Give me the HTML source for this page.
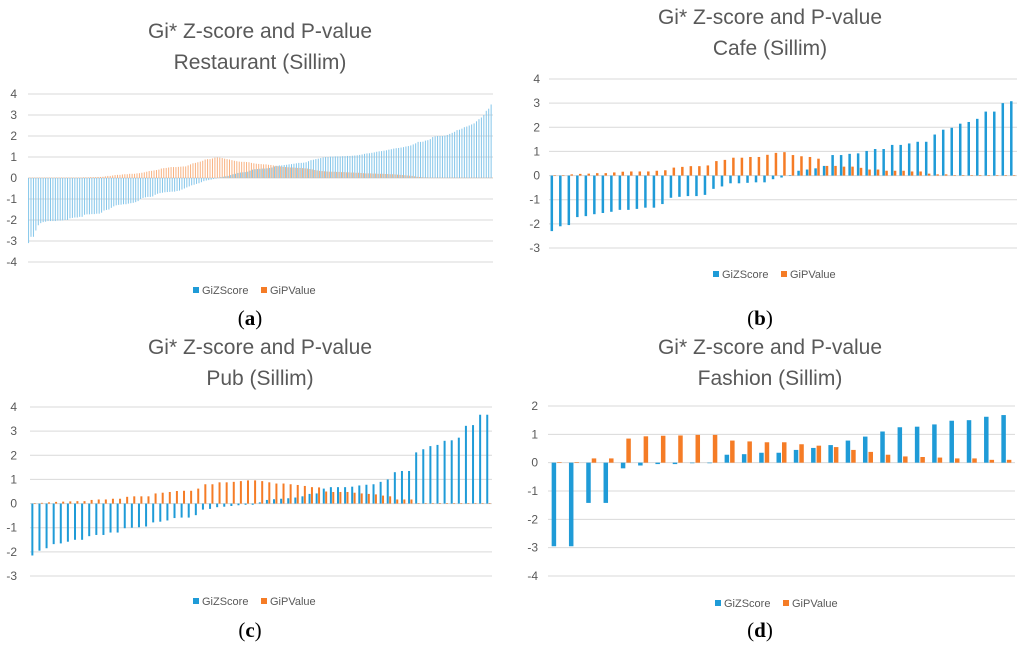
<!DOCTYPE html>
<html><head><meta charset="utf-8">
<style>
html,body{margin:0;padding:0;background:#fff;}
svg{display:block;font-family:"Liberation Sans",sans-serif;}
.tl{font-size:12px;fill:#595959;}
.ttl{font-size:21px;fill:#595959;}
.lg{font-size:11px;fill:#595959;}
.pl{font-family:"Liberation Serif",serif;font-size:21px;fill:#000;}
</style></head>
<body>
<svg id="root" width="1024" height="645" viewBox="0 0 1024 645"></svg>
<script>
// ---- Panel (a) Restaurant ----
const zA = [-3.1,-2.8,-2.8,-2.5,-2.25,-2.15,-2.1,-2.08,-2.05,-2.05,
-2.05,-2.05,-2.03,-2.03,-2.02,-2.0,-2.0,-1.92,-1.9,-1.88,
-1.88,-1.85,-1.85,-1.75,-1.73,-1.73,-1.72,-1.72,-1.7,-1.7,
-1.65,-1.55,-1.52,-1.5,-1.42,-1.35,-1.3,-1.28,-1.27,-1.25,
-1.25,-1.22,-1.2,-1.18,-1.15,-1.1,-1.0,-0.95,-0.92,-0.9,
-0.9,-0.88,-0.8,-0.75,-0.72,-0.7,-0.68,-0.67,-0.66,-0.65,
-0.65,-0.62,-0.6,-0.55,-0.5,-0.45,-0.4,-0.35,-0.32,-0.28,
-0.25,-0.2,-0.15,-0.12,-0.1,-0.08,-0.05,-0.03,0.02,0.04,
0.06,0.08,0.1,0.14,0.18,0.2,0.24,0.26,0.27,0.28,
0.3,0.35,0.4,0.42,0.43,0.44,0.45,0.45,0.46,0.48,
0.5,0.55,0.58,0.6,0.6,0.62,0.63,0.65,0.66,0.68,
0.7,0.72,0.72,0.73,0.75,0.8,0.85,0.87,0.9,0.92,
0.95,0.98,1.0,1.0,1.02,1.02,1.03,1.03,1.03,1.04,
1.04,1.05,1.05,1.06,1.07,1.08,1.1,1.12,1.15,1.17,
1.18,1.2,1.22,1.25,1.27,1.28,1.3,1.32,1.35,1.37,
1.4,1.42,1.43,1.45,1.47,1.5,1.52,1.55,1.6,1.65,
1.72,1.72,1.73,1.78,1.8,1.85,1.95,1.98,2.0,2.0,
2.0,2.02,2.05,2.1,2.15,2.2,2.28,2.3,2.35,2.42,
2.45,2.5,2.55,2.6,2.7,2.8,2.88,3.0,3.2,3.3,3.5];
const pA = [0.02,0.02,0.02,0.02,0.02,0.02,0.02,0.02,0.02,0.02,
0.02,0.02,0.02,0.02,0.02,0.02,0.02,0.02,0.02,0.02,
0.02,0.02,0.03,0.03,0.03,0.04,0.04,0.04,0.05,0.05,
0.06,0.08,0.1,0.1,0.12,0.14,0.15,0.15,0.17,0.18,
0.18,0.2,0.2,0.2,0.22,0.23,0.25,0.27,0.3,0.33,
0.34,0.36,0.38,0.4,0.45,0.47,0.48,0.5,0.52,0.52,
0.52,0.53,0.54,0.55,0.55,0.6,0.65,0.7,0.72,0.75,
0.78,0.82,0.88,0.9,0.9,0.93,0.97,0.98,0.97,0.95,
0.92,0.9,0.88,0.85,0.82,0.8,0.78,0.77,0.77,0.76,
0.75,0.72,0.7,0.68,0.67,0.66,0.65,0.65,0.63,0.62,
0.6,0.58,0.56,0.55,0.53,0.52,0.51,0.5,0.5,0.49,
0.48,0.48,0.47,0.46,0.45,0.43,0.41,0.38,0.36,0.34,
0.33,0.32,0.31,0.3,0.3,0.3,0.29,0.29,0.28,0.28,
0.27,0.27,0.26,0.26,0.25,0.25,0.24,0.23,0.22,0.22,
0.22,0.21,0.21,0.2,0.2,0.2,0.19,0.19,0.18,0.18,
0.17,0.16,0.15,0.14,0.13,0.12,0.11,0.1,0.08,0.06,
0.05,0.04,0.03,0.03,0.02,0.02,0.02,0.02,0.02,0.02,
0.02,0.02,0.02,0.02,0.02,0.02,0.02,0.02,0.02,0.02,
0.02,0.02,0.02,0.02,0.02,0.02,0.02,0.02,0.02,0.02,0.02];
const ticksA = [4,3,2,1,0,-1,-2,-3,-4];
// ---- Panel (b) Cafe ----
const zB = [-2.3,-2.1,-2.05,-1.72,-1.68,-1.6,-1.55,-1.5,-1.42,-1.42,
-1.38,-1.33,-1.33,-1.18,-0.92,-0.88,-0.85,-0.85,-0.8,-0.55,
-0.45,-0.32,-0.32,-0.3,-0.28,-0.28,-0.15,-0.08,0.02,0.2,
0.25,0.3,0.4,0.85,0.85,0.9,0.92,1.02,1.1,1.1,
1.27,1.27,1.33,1.4,1.4,1.7,1.9,1.98,2.15,2.22,
2.35,2.65,2.65,3.0,3.08];
const pB = [0.01,0.01,0.05,0.07,0.08,0.1,0.1,0.13,0.16,0.17,
0.17,0.17,0.2,0.22,0.33,0.36,0.39,0.39,0.42,0.6,
0.65,0.74,0.74,0.77,0.77,0.86,0.94,0.97,0.85,0.8,
0.77,0.7,0.4,0.4,0.37,0.37,0.32,0.25,0.25,0.2,
0.2,0.2,0.17,0.17,0.08,0.05,0.05,0.02,0.02,0.02,
0.02,0.02,0.02,0.02,0.02];
const ticksB = [4,3,2,1,0,-1,-2,-3];
// ---- Panel (c) Pub ----
const zC = [-2.15,-1.95,-1.85,-1.68,-1.65,-1.58,-1.5,-1.5,-1.35,-1.3,
-1.3,-1.2,-1.2,-1.02,-1.0,-0.98,-0.95,-0.78,-0.75,-0.7,
-0.6,-0.58,-0.58,-0.48,-0.25,-0.22,-0.15,-0.13,-0.1,-0.07,
-0.05,-0.05,0.05,0.15,0.18,0.2,0.22,0.25,0.3,0.4,
0.42,0.62,0.68,0.68,0.68,0.7,0.75,0.78,0.8,0.9,
1.0,1.3,1.35,1.35,2.12,2.25,2.38,2.43,2.6,2.62,
2.73,3.22,3.25,3.68,3.68];
const pC = [0.02,0.03,0.05,0.07,0.08,0.09,0.1,0.1,0.15,0.17,
0.17,0.2,0.2,0.28,0.3,0.3,0.3,0.42,0.45,0.48,
0.52,0.53,0.53,0.62,0.8,0.8,0.88,0.88,0.9,0.93,
0.96,0.96,0.93,0.88,0.83,0.83,0.8,0.77,0.73,0.68,
0.67,0.5,0.48,0.48,0.48,0.45,0.42,0.4,0.38,0.33,
0.3,0.17,0.17,0.17,0.02,0.02,0.02,0.02,0.02,0.02,
0.02,0.02,0.02,0.02,0.02];
const ticksC = [4,3,2,1,0,-1,-2,-3];
// ---- Panel (d) Fashion ----
const zD = [-2.95,-2.95,-1.42,-1.42,-0.2,-0.1,-0.05,-0.05,-0.02,-0.02,
0.28,0.3,0.35,0.35,0.45,0.52,0.62,0.78,0.92,1.1,
1.25,1.27,1.35,1.48,1.5,1.62,1.68];
const pD = [0.02,0.02,0.15,0.15,0.85,0.93,0.95,0.96,0.98,0.98,
0.78,0.75,0.72,0.72,0.65,0.6,0.55,0.45,0.38,0.28,
0.22,0.2,0.18,0.15,0.15,0.1,0.1];
const ticksD = [2,1,0,-1,-2,-3,-4];

const NS = "http://www.w3.org/2000/svg";
const root = document.getElementById('root');
function mk(tag, attrs, parent){
  const e = document.createElementNS(NS, tag);
  for (const k in attrs) e.setAttribute(k, attrs[k]);
  parent.appendChild(e);
  return e;
}
function panel(id, title2, z, p, ticks, g){
  const grp = mk('g', {}, root);
  
  
  const yMax = ticks[0], yMin = ticks[ticks.length-1];
  const y = v => g.top + (yMax - v) / (yMax - yMin) * (g.bot - g.top);
  // titles
  const t1 = mk('text', {x:g.cx, y:g.t1, 'text-anchor':'middle', class:'ttl'}, grp);
  t1.textContent = 'Gi* Z-score and P-value';
  
  
  const t2 = mk('text', {x:g.cx, y:g.t1+31, 'text-anchor':'middle', class:'ttl'}, grp);
  t2.textContent = title2;
  
  
  // grid + ticks
  ticks.forEach(t => {
    const l = mk('line', {x1:g.x0, x2:g.x1, y1:y(t), y2:y(t), stroke:'#d9d9d9', 'stroke-width':1}, grp);
    
    
    const tx = mk('text', {x:g.lx, y:y(t)+4, 'text-anchor':'end', class:'tl'}, grp);
    tx.textContent = t;
    
    
  });
  // bars
  const n = z.length, slot = (g.x1 - g.x0) / n;
  for (let i = 0; i < n; i++){
    const c = g.x0 + (i + 0.5) * slot;
    const zb = mk('rect', {x:c - g.bw - g.gap/2, y:Math.min(y(z[i]), y(0)), width:g.bw, height:Math.max(0.5, Math.abs(y(z[i]) - y(0))), fill:g.blue}, grp);
    
    
    const pb = mk('rect', {x:c + g.gap/2, y:Math.min(y(p[i]), y(0)), width:g.bw, height:Math.max(0.5, Math.abs(y(p[i]) - y(0))), fill:g.orange}, grp);
    
    
  }
  // legend
  const lg = mk('g', {}, grp);
  
  
  mk('rect', {x:g.legx, y:g.legy-7, width:6, height:6, fill:'#1f9bd7'}, lg);
  const l1 = mk('text', {x:g.legx+9, y:g.legy, class:'lg'}, lg);
  l1.textContent = 'GiZScore';
  
  
  mk('rect', {x:g.legx+68, y:g.legy-7, width:6, height:6, fill:'#f57c26'}, lg);
  const l2 = mk('text', {x:g.legx+77, y:g.legy, class:'lg'}, lg);
  l2.textContent = 'GiPValue';
  
  
  // panel label
  const pl = mk('text', {x:g.cx - 10, y:g.ply, 'text-anchor':'middle', class:'pl'}, grp);
  pl.innerHTML = '(<tspan font-weight="bold">' + id + '</tspan>)';
  
  
}
panel('a', 'Restaurant (Sillim)', zA, pA, ticksA,
  {x0:28, x1:493, top:94, bot:262, lx:17, cx:260, t1:38, legx:193, legy:294, ply:325, bw:1, gap:0.3, blue:'#85c6ea', orange:'#f8b282'});
panel('b', 'Cafe (Sillim)', zB, pB, ticksB,
  {x0:549, x1:1017, top:79, bot:248, lx:540, cx:770, t1:24, legx:713, legy:278, ply:325, bw:2.5, gap:0.4, blue:'#1f9bd7', orange:'#f57c26'});
panel('c', 'Pub (Sillim)', zC, pC, ticksC,
  {x0:30, x1:492, top:407, bot:576, lx:17, cx:260, t1:354, legx:193, legy:605, ply:637, bw:2, gap:0.4, blue:'#1f9bd7', orange:'#f57c26'});
panel('d', 'Fashion (Sillim)', zD, pD, ticksD,
  {x0:548, x1:1015, top:406, bot:576, lx:538, cx:770, t1:354, legx:715, legy:607, ply:637, bw:4.5, gap:1, blue:'#1f9bd7', orange:'#f57c26'});
</script>
</body></html>
